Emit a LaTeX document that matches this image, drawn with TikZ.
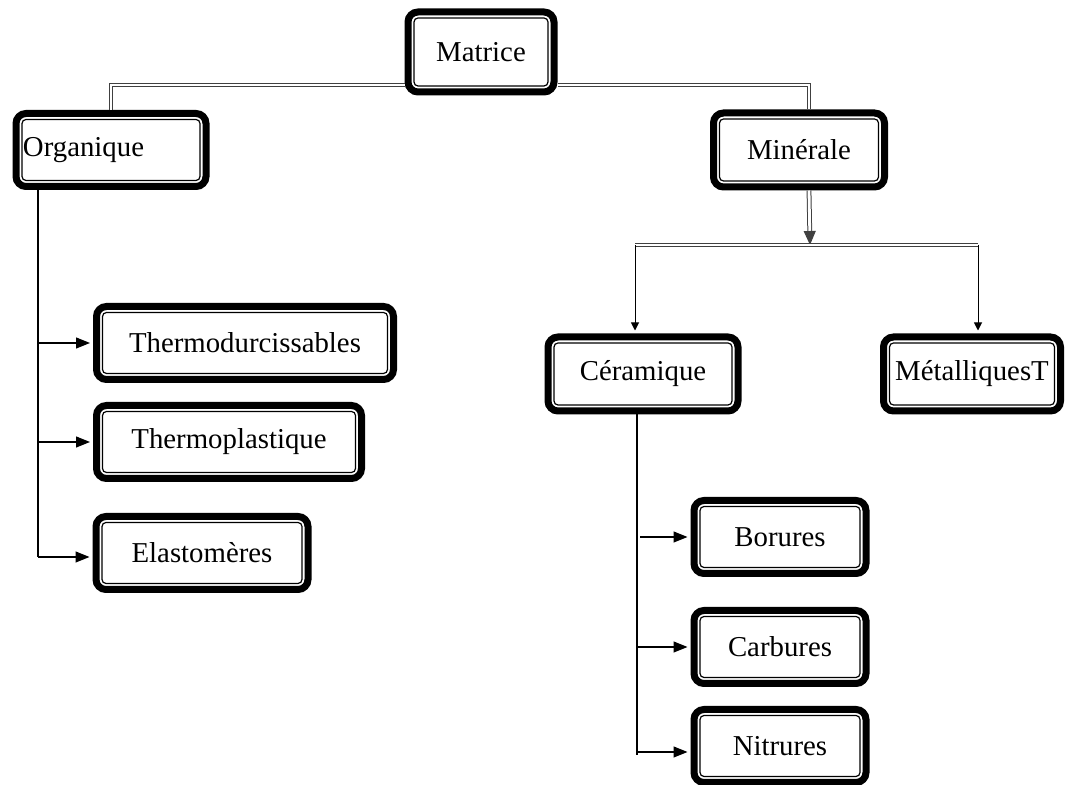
\documentclass[tikz,border=0pt]{standalone}
\usepackage{fontspec}
\setmainfont{Liberation Serif}
\usetikzlibrary{arrows.meta}

\tikzset{
  box/.style={draw, line width=3.5pt, rounded corners=5pt, fill=white,
    minimum height=36.5pt, font=\fontsize{14.4}{17}\selectfont,
    path picture={\draw[line width=0.6pt, rounded corners=2pt]
      ([shift={(3pt,3pt)}]path picture bounding box.south west) rectangle
      ([shift={(-3pt,-3pt)}]path picture bounding box.north east);}},
  link/.style={draw=black!75, line width=0.5pt, double=white, double distance=1.4pt},
  arr/.style={-{Triangle[length=7pt,width=5.5pt]}, line width=0.6pt, shorten >=1.5pt},
  tip/.style={-{Triangle[length=4pt,width=4pt]}, line width=0.5pt, shorten >=1.5pt}
}

\begin{document}
\begin{tikzpicture}[x=0.5pt, y=-0.5pt]
            \useasboundingbox (0,0) rectangle (1067,785);

            % Top
            \node[box, minimum width=73pt, minimum height=40pt] (mat) at (481,52) {Matrice};
            \node[box, text width=88pt, align=left, inner xsep=3.5pt] (org) at (111,150) {Organique};
            \node[box, minimum width=85.5pt, minimum height=37pt] (min) at (799,150) {Minérale};

            % Organique
            \node[box, minimum width=148.5pt] (the) at (245,343) {Thermodurcissables};
            \node[box, minimum width=132.5pt] (thp) at (229,442) {Thermoplastique};
            \node[box, minimum width=106pt] (ela) at (202,553) {Elastomères};

            % Minerale
            \node[box, minimum width=95pt, minimum height=37pt] (cer) at (643,374) {Céramique};
            \node[box, minimum width=88.5pt, minimum height=37pt] (met) at (972,374) {MétalliquesT};

            % Ceramique
            \node[box, minimum width=86pt] (bor) at (780,537) {Borures};
            \node[box, minimum width=86pt] (car) at (780,647) {Carbures};
            \node[box, minimum width=86pt] (nit) at (780,746) {Nitrures};

            % Links
            \draw[link] (mat.west |- 0,85) -| (org.north);
            \draw[link] (mat.east |- 0,85) -| ([xshift=5pt]min.north);

            \coordinate (mj) at (810,245);
            \draw[link, -{Triangle[length=7pt,width=6pt]}] ([xshift=5pt]min.south) -- (mj);
            \draw[link] ([xshift=-4pt]cer.north |- mj) -- ([xshift=3pt]met.north |- mj);
            \draw[tip] ([xshift=-4pt]cer.north |- mj) -- ([xshift=-4pt]cer.north);
            \draw[tip] ([xshift=3pt]met.north |- mj) -- ([xshift=3pt]met.north);

            \coordinate (ob) at (38,557);
            \draw[line width=0.6pt] (org.south -| ob) -- (ob);
            \draw[arr] (ob |- the) -- (the.west);
            \draw[arr] (ob |- thp) -- (thp.west);
            \draw[arr] (ob) -- (ela.west |- ob);

            \coordinate (cb) at (637,755);
            \draw[line width=0.6pt] (cer.south -| cb) -- (cb);
            \draw[arr] ([xshift=1.5pt]cb |- bor) -- (bor.west);
            \draw[arr] (cb |- car) -- (car.west);
            \draw[arr] (cb |- 0,752) -- (nit.west |- 0,752);

\end{tikzpicture}
\end{document}
